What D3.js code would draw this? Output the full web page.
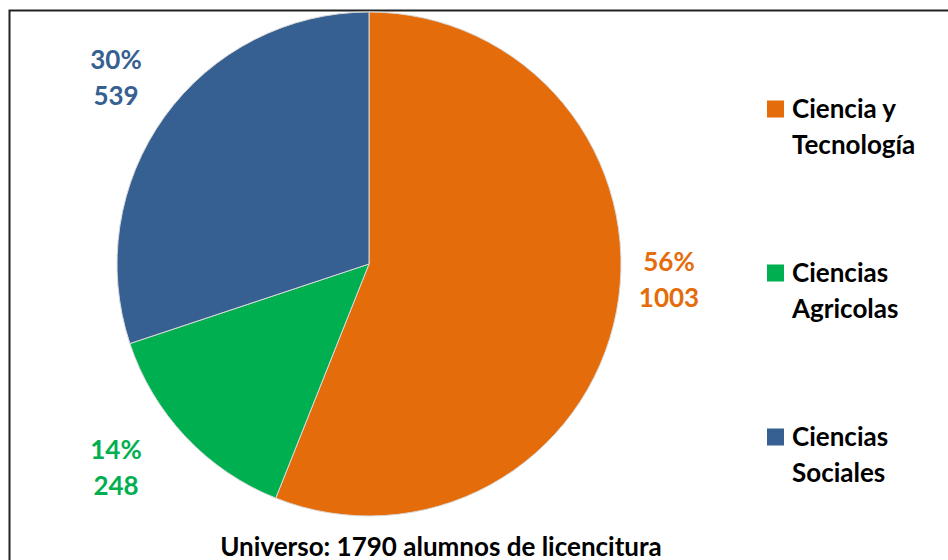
<!DOCTYPE html>
<html><head><meta charset="utf-8">
<script src="https://cdn.jsdelivr.net/npm/d3@7"></script>
<style>body{margin:0;background:#fff}svg{display:block}text{font-family:Lato,"Open Sans",sans-serif;font-weight:bold}</style>
</head><body>
<svg id="c" width="948" height="560"></svg>
<script>
const categories = ["Ciencia y Tecnología", "Ciencias Agricolas", "Ciencias Sociales"];
const legendLines = [["Ciencia y", "Tecnología"], ["Ciencias", "Agricolas"], ["Ciencias", "Sociales"]];
const values = [1003, 248, 539];
const percents = ["56%", "14%", "30%"];
const colors = ["#E46C0A", "#00B050", "#376092"];
const labelColors = ["#E46C0A", "#00B050", "#376092"];
const title = "Universo: 1790 alumnos de licencitura";

const svg = d3.select("#c");
svg.append("rect").attr("x", 9.5).attr("y", 10.5).attr("width", 1000).attr("height", 1000)
  .attr("fill", "none").attr("stroke", "#222").attr("stroke-width", 2);

const cx = 369, cy = 264, r = 252;
const pie = d3.pie().sort(null).value(d => d)(values);
const arc = d3.arc().innerRadius(0).outerRadius(r);
const g = svg.append("g").attr("transform", `translate(${cx},${cy})`);
g.selectAll("path").data(pie).join("path")
  .attr("d", arc).attr("fill", (d, i) => colors[i])
  .attr("stroke", "#d9d9d9").attr("stroke-width", 1);

const labelPos = [[669, 262], [116, 450], [116, 60]];
pie.forEach((d, i) => {
  const [x, y] = labelPos[i];
  const t = svg.append("text").attr("text-anchor", "middle").attr("fill", labelColors[i])
    .style("font-size", "26px");
  t.append("tspan").attr("x", x).attr("y", y + 9).text(percents[i]);
  t.append("tspan").attr("x", x).attr("y", y + 45).text(values[i]);
});

const legY = [109, 273, 437];
legendLines.forEach((lines, i) => {
  svg.append("rect").attr("x", 767).attr("y", legY[i] - 8.5).attr("width", 17).attr("height", 17).attr("fill", colors[i]);
  const t = svg.append("text").attr("fill", "#000").style("font-size", "26px");
  lines.forEach((l, j) => t.append("tspan").attr("x", 792).attr("y", legY[i] + 9 + j * 36).text(l));
});

svg.append("text").attr("x", 441).attr("y", 556).attr("text-anchor", "middle")
  .attr("fill", "#000").style("font-size", "26px").text(title);
</script>
</body></html>
